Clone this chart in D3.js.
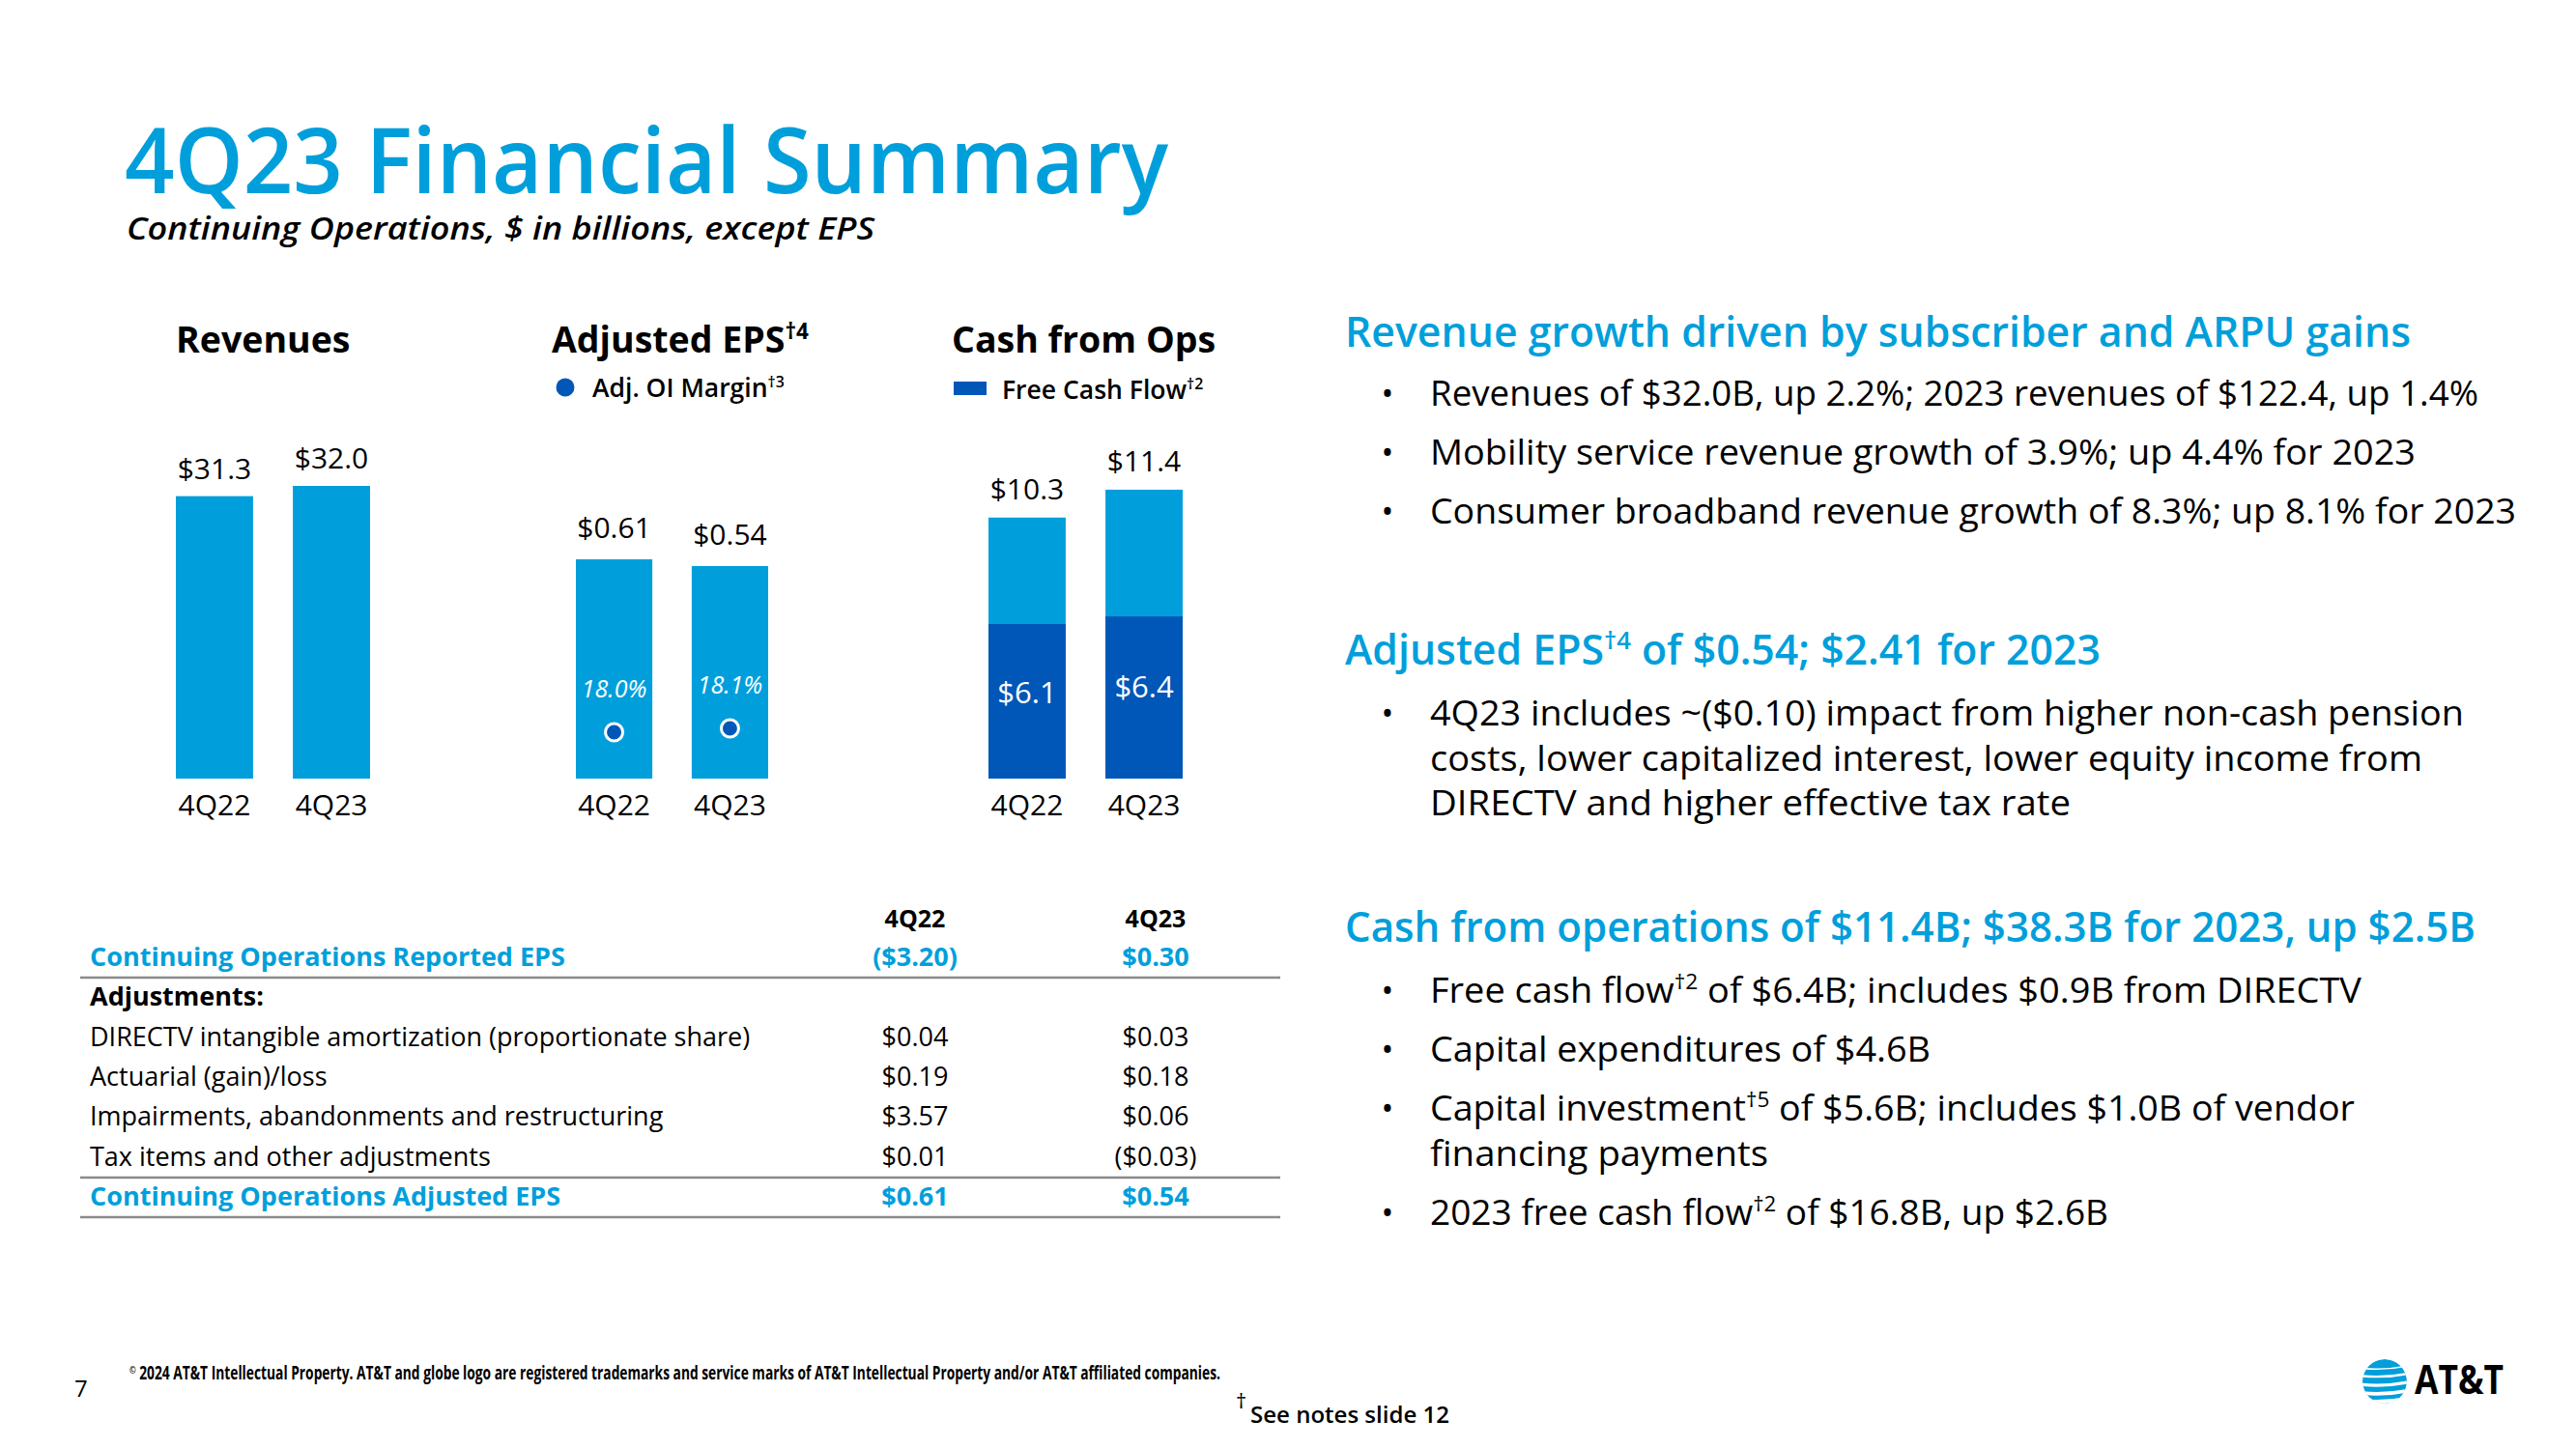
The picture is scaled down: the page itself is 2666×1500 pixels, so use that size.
<!DOCTYPE html>
<html><head><meta charset="utf-8">
<script src="https://cdn.jsdelivr.net/npm/d3@7"></script>
<style>
html,body{margin:0;padding:0;background:#fff;}
svg{display:block;}
text{font-family:"Open Sans","Noto Sans",sans-serif;}
</style></head>
<body>
<svg id="chart" width="2666" height="1500"></svg>
<script>
// ---------- DATA ----------
const categories = ["4Q22", "4Q23"];
const revenues = [31.3, 32.0];
const adjEPS = [0.61, 0.54];
const oiMargin = [18.0, 18.1];
const cashFromOps = [10.3, 11.4];
const freeCashFlow = [6.1, 6.4];

const tableHeader = ["4Q22", "4Q23"];
const tableLabels = [
  "Continuing Operations Reported EPS",
  "Adjustments:",
  "DIRECTV intangible amortization (proportionate share)",
  "Actuarial (gain)/loss",
  "Impairments, abandonments and restructuring",
  "Tax items and other adjustments",
  "Continuing Operations Adjusted EPS"
];
const table4Q22 = ["($3.20)", "", "$0.04", "$0.19", "$3.57", "$0.01", "$0.61"];
const table4Q23 = ["$0.30", "", "$0.03", "$0.18", "$0.06", "($0.03)", "$0.54"];
const tableRowKind = ["blue", "bold", "plain", "plain", "plain", "plain", "blue"];

const headline1 = [{t: "Revenue growth driven by subscriber and ARPU gains"}];
const bullets1 = [
  [[{t: "Revenues of $32.0B, up 2.2%; 2023 revenues of $122.4, up 1.4%"}]],
  [[{t: "Mobility service revenue growth of 3.9%; up 4.4% for 2023"}]],
  [[{t: "Consumer broadband revenue growth of 8.3%; up 8.1% for 2023"}]]
];
const headline2 = [{t: "Adjusted EPS"}, {t: "†4", sup: true}, {t: " of $0.54; $2.41 for 2023"}];
const bullets2 = [
  [[{t: "4Q23 includes ~($0.10) impact from higher non-cash pension"}],
   [{t: "costs, lower capitalized interest, lower equity income from"}],
   [{t: "DIRECTV and higher effective tax rate"}]]
];
const headline3 = [{t: "Cash from operations of $11.4B; $38.3B for 2023, up $2.5B"}];
const bullets3 = [
  [[{t: "Free cash flow"}, {t: "†2", sup: true}, {t: " of $6.4B; includes $0.9B from DIRECTV"}]],
  [[{t: "Capital expenditures of $4.6B"}]],
  [[{t: "Capital investment"}, {t: "†5", sup: true}, {t: " of $5.6B; includes $1.0B of vendor"}],
   [{t: "financing payments"}]],
  [[{t: "2023 free cash flow"}, {t: "†2", sup: true}, {t: " of $16.8B, up $2.6B"}]]
];

// ---------- LAYOUT (line widths in px) ----------
const lineWidths1 = [1085, 1020, 1124];
const lineWidths2 = [1070, 1027, 663];
const lineWidths3 = [964, 518, 957, 350, 702];
const headWidths = [1103, 782, 1170];

// ---------- STYLE ----------
const BLUE = "#009FDB", DARK = "#0057B8", INK = "#000000";
const svg = d3.select("#chart");
svg.append("rect").attr("width", 2666).attr("height", 1500).attr("fill", "#fff");

function rich(g, x, y, segs, size, opts = {}) {
  const t = g.append("text").attr("x", x).attr("y", y)
    .attr("font-size", size).attr("fill", opts.fill || INK)
    .attr("font-weight", opts.weight || 400)
    .attr("font-style", opts.italic ? "italic" : "normal")
    .attr("text-anchor", opts.anchor || "start");
  let raised = false;
  segs.forEach(s => {
    const ts = t.append("tspan").text(s.t);
    if (s.sup && !raised) { ts.attr("dy", -size * 0.38).attr("font-size", size * 0.6); raised = true; }
    else if (!s.sup && raised) { ts.attr("dy", size * 0.38); raised = false; }
  });
  if (opts.width) t.attr("textLength", opts.width).attr("lengthAdjust", "spacingAndGlyphs");
  return t;
}

// ---------- TITLE ----------
rich(svg, 129, 200, [{t: "4Q23 Financial Summary"}], 95, {fill: BLUE, weight: 600, width: 1080});
rich(svg, 131, 248, [{t: "Continuing Operations, $ in billions, except EPS"}], 33, {italic: true, weight: 600, width: 774});

// ---------- BAR CHARTS ----------
const baseY = 806;
const fmt1 = d3.format("$.1f"), fmt2 = d3.format("$.2f");

function bandFor(x0, x1) {
  return d3.scaleBand().domain(categories).range([x0, x1]).paddingInner(0.34).paddingOuter(0);
}
function catAxis(x) {
  const ax = svg.append("g").attr("transform", `translate(0,${baseY})`)
    .call(d3.axisBottom(x).tickSize(0).tickPadding(0));
  ax.select(".domain").remove();
  ax.selectAll("text").attr("font-size", 30).attr("fill", INK)
    .attr("font-family", '"Open Sans",sans-serif').attr("dy", 38);
}

// Revenues
const xRev = bandFor(182, 383);
const yRev = d3.scaleLinear().domain([12, 32]).range([baseY, 503]);
rich(svg, 182, 365, [{t: "Revenues"}], 37.5, {weight: 700});
svg.append("g").selectAll("rect").data(revenues).join("rect")
  .attr("x", (d, i) => xRev(categories[i])).attr("width", xRev.bandwidth())
  .attr("y", d => yRev(d)).attr("height", d => baseY - yRev(d)).attr("fill", BLUE);
svg.append("g").selectAll("text").data(revenues).join("text")
  .attr("x", (d, i) => xRev(categories[i]) + xRev.bandwidth() / 2)
  .attr("y", d => yRev(d) - 18).attr("text-anchor", "middle")
  .attr("font-size", 30).attr("fill", INK).text(d => fmt1(d));
catAxis(xRev);

// Adjusted EPS
const xEps = bandFor(596, 795);
const yEps = d3.scaleLinear().domain([-1.66, 0.61]).range([baseY, 579]);
const yMargin = d3.scaleLinear().domain([18.0, 18.1]).range([758, 754]);
rich(svg, 571, 365, [{t: "Adjusted EPS"}, {t: "†4", sup: true}], 37.5, {weight: 700});
svg.append("circle").attr("cx", 585).attr("cy", 401).attr("r", 9.5).attr("fill", DARK);
rich(svg, 613, 411, [{t: "Adj. OI Margin"}, {t: "†3", sup: true}], 26.5, {weight: 600});
svg.append("g").selectAll("rect").data(adjEPS).join("rect")
  .attr("x", (d, i) => xEps(categories[i])).attr("width", xEps.bandwidth())
  .attr("y", d => yEps(d)).attr("height", d => baseY - yEps(d)).attr("fill", BLUE);
svg.append("g").selectAll("text").data(adjEPS).join("text")
  .attr("x", (d, i) => xEps(categories[i]) + xEps.bandwidth() / 2)
  .attr("y", d => yEps(d) - 22).attr("text-anchor", "middle")
  .attr("font-size", 30).attr("fill", INK).text(d => fmt2(d));
svg.append("g").selectAll("circle").data(oiMargin).join("circle")
  .attr("cx", (d, i) => xEps(categories[i]) + xEps.bandwidth() / 2)
  .attr("cy", d => yMargin(d)).attr("r", 9)
  .attr("fill", DARK).attr("stroke", "#fff").attr("stroke-width", 3);
svg.append("g").selectAll("text").data(oiMargin).join("text")
  .attr("x", (d, i) => xEps(categories[i]) + xEps.bandwidth() / 2)
  .attr("y", d => yMargin(d) - 36).attr("text-anchor", "middle")
  .attr("font-size", 25).attr("font-style", "italic").attr("fill", "#fff")
  .text(d => d3.format(".1f")(d) + "%");
catAxis(xEps);

// Cash from Ops (stacked)
const xCash = bandFor(1023, 1224);
const yCash = d3.scaleLinear().domain([0, 11.55]).range([baseY, 503]);
rich(svg, 985, 365, [{t: "Cash from Ops"}], 37.5, {weight: 700});
svg.append("rect").attr("x", 987).attr("y", 395).attr("width", 34).attr("height", 14).attr("fill", DARK);
rich(svg, 1037, 413, [{t: "Free Cash Flow"}, {t: "†2", sup: true}], 26.5, {weight: 600});
svg.append("g").selectAll("rect").data(cashFromOps).join("rect")
  .attr("x", (d, i) => xCash(categories[i])).attr("width", xCash.bandwidth())
  .attr("y", d => yCash(d)).attr("height", d => baseY - yCash(d)).attr("fill", BLUE);
svg.append("g").selectAll("rect").data(freeCashFlow).join("rect")
  .attr("x", (d, i) => xCash(categories[i])).attr("width", xCash.bandwidth())
  .attr("y", d => yCash(d)).attr("height", d => baseY - yCash(d)).attr("fill", DARK);
svg.append("g").selectAll("text").data(cashFromOps).join("text")
  .attr("x", (d, i) => xCash(categories[i]) + xCash.bandwidth() / 2)
  .attr("y", d => yCash(d) - 19).attr("text-anchor", "middle")
  .attr("font-size", 30).attr("fill", INK).text(d => fmt1(d));
svg.append("g").selectAll("text").data(freeCashFlow).join("text")
  .attr("x", (d, i) => xCash(categories[i]) + xCash.bandwidth() / 2)
  .attr("y", (d, i) => yCash(d) + [82, 84][i]).attr("text-anchor", "middle")
  .attr("font-size", 31).attr("fill", "#fff").text(d => fmt1(d));
catAxis(xCash);

// ---------- TABLE ----------
const tg = svg.append("g");
const rowY = d3.scalePoint().domain(d3.range(tableLabels.length)).range([1000, 1248]);
const colX = d3.scalePoint().domain(tableHeader).range([947, 1196]);
tableHeader.forEach(h => rich(tg, colX(h), 960, [{t: h}], 25, {weight: 700, anchor: "middle"}));
tableLabels.forEach((lab, i) => {
  const k = tableRowKind[i];
  const o = k === "blue" ? {fill: BLUE, weight: 700} : k === "bold" ? {weight: 700} : {weight: 400};
  rich(tg, 93, rowY(i), [{t: lab}], 27, o);
  rich(tg, colX("4Q22"), rowY(i), [{t: table4Q22[i]}], 27, Object.assign({anchor: "middle"}, o));
  rich(tg, colX("4Q23"), rowY(i), [{t: table4Q23[i]}], 27, Object.assign({anchor: "middle"}, o));
});
[1012, 1219, 1260].forEach(y => tg.append("line").attr("x1", 83).attr("x2", 1325)
  .attr("y1", y).attr("y2", y).attr("stroke", "#8a8a8a").attr("stroke-width", 2.5));

// ---------- RIGHT COLUMN ----------
const rg = svg.append("g");
function block(head, headW, headY, bullets, widths, firstY, lineGap, bulletGap) {
  rich(rg, 1392, headY, head, 43, {fill: BLUE, weight: 600, width: headW});
  let y = firstY, n = 0;
  bullets.forEach(lines => {
    rich(rg, 1436, y, [{t: "•"}], 34, {anchor: "middle"});
    lines.forEach((segs, j) => {
      rich(rg, 1480, y, segs, 37, {width: widths[n++]});
      if (j < lines.length - 1) y += lineGap;
    });
    y += bulletGap;
  });
}
block(headline1, headWidths[0], 359, bullets1, lineWidths1, 420, 47, 61);
block(headline2, headWidths[1], 688, bullets2, lineWidths2, 751, 46.5, 61);
block(headline3, headWidths[2], 975, bullets3, lineWidths3, 1038, 47, 61);

// ---------- FOOTER ----------
rich(svg, 77, 1446, [{t: "7"}], 24);
const cp = svg.append("text").attr("x", 134).attr("y", 1428).attr("font-size", 19)
  .attr("font-weight", 700).attr("fill", INK)
  .attr("textLength", 1129).attr("lengthAdjust", "spacingAndGlyphs");
cp.append("tspan").attr("font-size", 11).attr("dy", -6).text("©");
cp.append("tspan").attr("dy", 6).text(" 2024 AT&T Intellectual Property. AT&T and globe logo are registered trademarks and service marks of AT&T Intellectual Property and/or AT&T affiliated companies.");
rich(svg, 1279, 1458, [{t: "†"}], 22);
rich(svg, 1294, 1473, [{t: "See notes slide 12"}], 23, {weight: 600, width: 206});

// logo
const logo = svg.append("g").attr("transform", "translate(2468,1430)");
const defs = svg.append("defs");
defs.append("clipPath").attr("id", "globeClip").append("circle").attr("r", 23);
const lg = logo.append("g").attr("clip-path", "url(#globeClip)");
lg.append("circle").attr("r", 23).attr("fill", BLUE);
[[-15, 1.6], [-7.5, 2.4], [1, 3.2], [9.5, 3.8], [17.5, 4.2]].forEach(([yy, h]) =>
  lg.append("path").attr("d", `M-30,${yy} Q0,${yy + 4} 30,${yy - 3} L30,${yy - 3 + h} Q0,${yy + 4 + h} -30,${yy + h} Z`).attr("fill", "#fff"));
rich(svg, 2499, 1443, [{t: "AT&T"}], 42, {weight: 700, width: 92});
</script>
</body></html>
